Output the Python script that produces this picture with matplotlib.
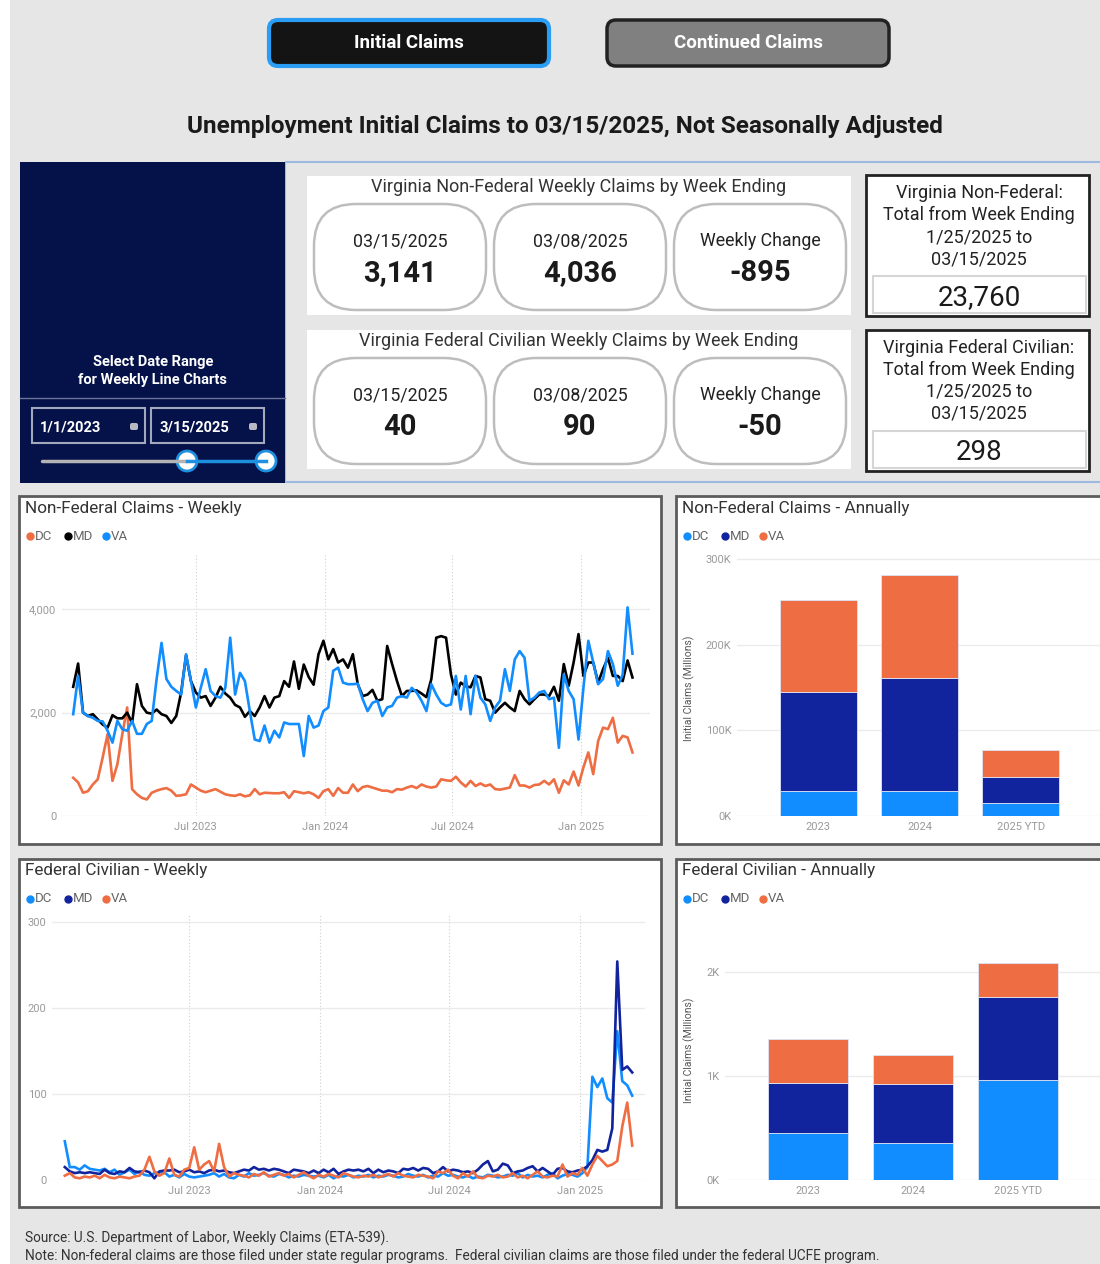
import matplotlib.pyplot as plt
from matplotlib.patches import Rectangle, FancyBboxPatch, Circle
import pandas as pd

plt.rcParams['font.family'] = ['Roboto', 'DejaVu Sans']

W, H = 1100, 1264

# weekly series, week ending 1/7/2023 .. 3/15/2025
weeks = pd.date_range('2023-01-07', '2025-03-15', freq='7D')

nf_dc = [740, 650, 450, 480, 610, 710, 1130, 1580, 680, 1000,
         1580, 2100, 520, 420, 350, 320, 450, 490, 520, 540,
         490, 390, 400, 420, 610, 550, 490, 460, 490, 520,
         470, 420, 400, 390, 420, 380, 400, 520, 420, 450,
         445, 440, 440, 460, 350, 480, 460, 440, 460, 420,
         350, 480, 520, 390, 540, 450, 450, 610, 480, 560,
         580, 550, 520, 490, 490, 460, 520, 510, 550, 580,
         540, 610, 570, 550, 570, 710, 690, 680, 760, 650,
         570, 680, 580, 630, 580, 610, 520, 510, 530, 550,
         790, 590, 590, 550, 600, 610, 680, 610, 710, 450,
         690, 610, 860, 590, 940, 1230, 810, 1450, 1710, 1680,
         1900, 1420, 1550, 1520, 1230]
nf_md = [2500, 2950, 2000, 1935, 1970, 1870, 1770, 1710, 1950, 1890,
         1890, 2000, 1800, 2550, 2130, 2000, 1980, 2060, 1970, 1935,
         1800, 1935, 2390, 3110, 2610, 2390, 2290, 2320, 2130, 2290,
         2500, 2370, 2290, 2150, 2100, 1920, 2030, 1935, 2100, 2320,
         2100, 2290, 2320, 2610, 2500, 2990, 2460, 2930, 2690, 2540,
         3130, 3390, 3030, 3230, 2970, 3030, 2870, 3130, 2550, 2320,
         2350, 2440, 2230, 2260, 3290, 2940, 2610, 2320, 2420, 2420,
         2430, 2370, 2300, 2650, 3450, 3480, 3450, 2740, 2350, 2580,
         2510, 2490, 2710, 2680, 2260, 2230, 2000, 2100, 2190, 2100,
         2030, 2420, 2260, 2160, 2260, 2350, 2350, 2320, 2500, 2230,
         2940, 2520, 2970, 3520, 2710, 2970, 2970, 2580, 2840, 3060,
         2710, 2710, 2610, 3010, 2680]
nf_va = [1970, 2710, 2000, 1935, 1900, 1840, 1830, 1650, 1420, 1840,
         1680, 1650, 1840, 1590, 1590, 1780, 1840, 2650, 3350, 2650,
         2500, 2420, 2350, 3130, 2610, 2100, 2480, 2840, 2420, 2320,
         2290, 2480, 3450, 2350, 2770, 2610, 2030, 1480, 1450, 1750,
         1420, 1650, 1520, 1810, 1780, 1780, 1780, 1160, 1935, 1710,
         1750, 2030, 2100, 2810, 2870, 2580, 2550, 2550, 2560, 2260,
         2030, 2190, 2230, 1935, 2100, 2130, 2290, 2320, 2290, 2480,
         2390, 2230, 2030, 2550, 2350, 2190, 2130, 2160, 2710, 2060,
         2710, 1970, 2710, 2290, 2160, 1840, 2100, 2230, 2840, 2420,
         3030, 3190, 3060, 2230, 2290, 2390, 2420, 2260, 2290, 1320,
         2740, 2420, 2260, 1480, 2480, 3390, 2970, 2550, 2650, 3190,
         2940, 2520, 2733, 4036, 3141]

fed_dc = [45, 15, 15, 12, 17, 13, 12, 11, 13, 9,
          12, 6, 9, 12, 7, 10, 6, 5, 8, 9,
          9, 4, 6, 3, 7, 4, 3, 4, 5, 6,
          8, 4, 7, 3, 2, 6, 4, 8, 5, 6,
          8, 5, 4, 7, 6, 3, 5, 4, 6, 5,
          4, 5, 3, 6, 2, 5, 4, 6, 3, 5,
          4, 6, 3, 5, 4, 6, 5, 3, 4, 7,
          5, 4, 6, 3, 5, 4, 8, 5, 6, 4,
          3, 5, 2, 4, 3, 6, 5, 3, 4, 6,
          5, 8, 3, 6, 4, 5, 3, 6, 8, 2,
          5, 7, 6, 4, 8, 15, 120, 108, 118, 95,
          90, 173, 115, 110, 98]
fed_md = [15, 10, 8, 9, 8, 9, 8, 7, 12, 8,
          7, 10, 9, 14, 10, 9, 11, 9, 2, 10,
          11, 11, 12, 9, 10, 12, 9, 10, 8, 11,
          12, 10, 11, 9, 8, 10, 12, 11, 15, 12,
          13, 11, 13, 12, 10, 8, 12, 11, 10, 8,
          11, 8, 12, 9, 13, 7, 10, 12, 11, 12,
          10, 13, 8, 12, 9, 11, 10, 8, 13, 12,
          14, 11, 14, 13, 8, 10, 15, 10, 12, 11,
          9, 10, 8, 12, 18, 22, 10, 12, 19, 17,
          8, 10, 11, 14, 16, 10, 14, 10, 6, 13,
          14, 10, 9, 11, 12, 16, 23, 35, 33, 35,
          60, 254, 128, 132, 125]
fed_va = [5, 8, 3, 2, 4, 3, 5, 2, 6, 3,
          2, 4, 3, 2, 4, 5, 12, 27, 10, 5,
          8, 25, 6, 4, 12, 14, 38, 12, 18, 22,
          10, 42, 15, 4, 8, 6, 5, 3, 7, 5,
          9, 4, 6, 8, 5, 7, 3, 6, 9, 5,
          2, 6, 4, 7, 5, 3, 8, 6, 4, 3,
          5, 4, 6, 3, 5, 7, 4, 8, 5, 4,
          3, 6, 5, 4, 2, 10, 8, 12, 5, 2,
          8, 4, 10, 3, 2, 5, 4, 6, 3, 4,
          8, 3, 5, 2, 6, 10, 4, 3, 5, 4,
          18, 4, 8, 6, 14, 5, 18, 28, 22, 16,
          18, 22, 62, 90, 40]

# annual totals
years = ['2023', '2024', '2025 YTD']
nf_yr_dc = [29000, 29000, 15000]
nf_yr_md = [116000, 132000, 30500]
nf_yr_va = [107000, 120000, 31500]
fed_yr_dc = [450, 355, 960]
fed_yr_md = [480, 565, 800]
fed_yr_va = [425, 280, 330]

# KPI cards
kpi_labels = ['03/15/2025', '03/08/2025', 'Weekly Change']
nf_kpi = ['3,141', '4,036', '-895']
fed_kpi = ['40', '90', '-50']
nf_total = '23,760'
fed_total = '298'

date_ticks = pd.to_datetime(['2023-07-01', '2024-01-01', '2024-07-01', '2025-01-01'])
date_labels = ['Jul 2023', 'Jan 2024', 'Jul 2024', 'Jan 2025']

ORANGE = '#EE6D42'
LBLUE = '#118DFF'
NAVY = '#12239E'

fig = plt.figure(figsize=(W / 100, H / 100), dpi=100)
fig.patch.set_facecolor('#e6e6e6')

# full-figure axes in pixel units for the dashboard furniture
bg = fig.add_axes([0, 0, 1, 1])
bg.set_xlim(0, W)
bg.set_ylim(H, 0)
bg.axis('off')


def px_axes(x0, y0, x1, y1):
    return fig.add_axes([x0 / W, 1 - y1 / H, (x1 - x0) / W, (y1 - y0) / H])


bg.add_patch(Rectangle((0, 0), 10, H, fc='white', ec='none'))

# buttons
bg.add_patch(FancyBboxPatch((269, 20), 280, 46, boxstyle='round,pad=0,rounding_size=9',
                            fc='#141414', ec='#2a9df4', lw=3))
bg.text(409, 43, 'Initial Claims', color='white', fontsize=13.5, fontweight='bold',
        ha='center', va='center')
bg.add_patch(FancyBboxPatch((607, 20), 282, 46, boxstyle='round,pad=0,rounding_size=9',
                            fc='#808080', ec='#222222', lw=2.5))
bg.text(748, 43, 'Continued Claims', color='white', fontsize=13.5, fontweight='bold',
        ha='center', va='center')

bg.text(565, 127, 'Unemployment Initial Claims to 03/15/2025, Not Seasonally Adjusted',
        fontsize=17.5, fontweight='bold', ha='center', va='center', color='#1a1a1a')

# date slicer panel
bg.add_patch(Rectangle((285, 162), 830, 320, fill=False, ec='#9dbbe0', lw=1.5))
bg.add_patch(Rectangle((20, 162), 265, 321, fc='#051249', ec='none'))
bg.text(153, 371, 'Select Date Range\nfor Weekly Line Charts', ha='center', va='center',
        color='white', fontsize=10.5, fontweight='bold', linespacing=1.4)
bg.plot([20, 285], [398, 398], color='#6b7396', lw=1)
for x0, label in [(32, '1/1/2023'), (151, '3/15/2025')]:
    bg.add_patch(Rectangle((x0, 408), 113, 35, fill=False, ec='#a4a8bc', lw=1.5))
    bg.text(x0 + 8, 427, label, color='white', fontsize=10.5, fontweight='bold', va='center')
    bg.add_patch(FancyBboxPatch((x0 + 98, 423), 8, 7, boxstyle='round,pad=0,rounding_size=2',
                                fc='#b8b8c4', ec='none'))
bg.plot([42, 187], [461, 461], color='#b4b4b4', lw=2.5, solid_capstyle='round')
bg.plot([187, 266], [461, 461], color='#1f8fe0', lw=2.5)
for cx in [187, 266]:
    bg.add_patch(Circle((cx, 461), 10, fc='white', ec='#1f8fe0', lw=2))

# KPI cards
for top, title, vals in [(176, 'Virginia Non-Federal Weekly Claims by Week Ending', nf_kpi),
                         (330, 'Virginia Federal Civilian Weekly Claims by Week Ending', fed_kpi)]:
    bg.add_patch(Rectangle((307, top), 544, 139, fc='white', ec='none'))
    bg.text(579, top + 11, title, ha='center', va='center', fontsize=13, color='#333333')
    for cx, lab, val in zip([400, 580, 760], kpi_labels, vals):
        bg.add_patch(FancyBboxPatch((cx - 86, top + 28), 172, 106,
                                    boxstyle='round,pad=0,rounding_size=42',
                                    fc='white', ec='#bdbdbd', lw=1.8))
        bg.text(cx, top + 65, lab, ha='center', va='center', fontsize=12.8, color='#222222')
        bg.text(cx, top + 97, val, ha='center', va='center', fontsize=21,
                fontweight='bold', color='#1a1a1a')

for top, lines, total in [(175, ['Virginia Non-Federal:', 'Total from Week Ending',
                                 '1/25/2025 to', '03/15/2025'], nf_total),
                          (330, ['Virginia Federal Civilian:', 'Total from Week Ending',
                                 '1/25/2025 to', '03/15/2025'], fed_total)]:
    bg.add_patch(Rectangle((866, top), 223, 141, fc='white', ec='#222222', lw=2))
    bg.add_patch(Rectangle((873, top + 101), 213, 37, fc='white', ec='#d5d5d5', lw=1.5))
    for i, s in enumerate(lines):
        bg.text(979, top + 18 + 22 * i, s, ha='center', va='center', fontsize=13,
                color='#222222')
    bg.text(979, top + 123, total, ha='center', va='center', fontsize=20, color='#1a1a1a')

# chart panels
panels = [((19, 496, 642, 348), 'Non-Federal Claims - Weekly',
           [('DC', ORANGE), ('MD', 'black'), ('VA', LBLUE)]),
          ((676, 496, 440, 348), 'Non-Federal Claims - Annually',
           [('DC', LBLUE), ('MD', NAVY), ('VA', ORANGE)]),
          ((19, 859, 642, 348), 'Federal Civilian - Weekly',
           [('DC', LBLUE), ('MD', NAVY), ('VA', ORANGE)]),
          ((676, 859, 440, 348), 'Federal Civilian - Annually',
           [('DC', LBLUE), ('MD', NAVY), ('VA', ORANGE)])]
for (x0, y0, w, h), title, items in panels:
    bg.add_patch(Rectangle((x0, y0), w, h, fc='white', ec='#5c5c5c', lw=2))
    bg.text(x0 + 6, y0 + 12, title, fontsize=12.3, color='#333333', va='center')
    for k, (lab, col) in enumerate(items):
        lx = x0 + 11 + 38 * k
        bg.plot(lx, y0 + 40, 'o', ms=5, color=col)
        bg.text(lx + 5, y0 + 40, lab, fontsize=9.5, color='#666666', va='center')


def style_axes(ax):
    ax.set_facecolor('none')
    for sp in ax.spines.values():
        sp.set_visible(False)
    ax.tick_params(length=0, labelsize=8, labelcolor='#9a9a9a', pad=4)
    ax.set_axisbelow(True)
    ax.yaxis.grid(True, color='#ebebeb', lw=1)


# non-federal weekly
ax1 = px_axes(62, 555, 650, 816)
style_axes(ax1)
ax1.plot(weeks, nf_dc, color=ORANGE, lw=1.9)
ax1.plot(weeks, nf_md, color='black', lw=1.9)
ax1.plot(weeks, nf_va, color=LBLUE, lw=1.9)
ax1.set_ylim(0, 5050)
ax1.set_yticks([0, 2000, 4000])
ax1.set_yticklabels(['0', '2,000', '4,000'])
ax1.set_xlim(pd.Timestamp('2022-12-22'), pd.Timestamp('2025-04-09'))
ax1.set_xticks(date_ticks)
ax1.set_xticklabels(date_labels)
ax1.xaxis.grid(True, color='#cfcfcf', ls=(0, (1, 2)), lw=0.8)

# federal weekly
ax3 = px_axes(52, 915, 645, 1180)
style_axes(ax3)
ax3.plot(weeks, fed_dc, color=LBLUE, lw=1.9)
ax3.plot(weeks, fed_md, color=NAVY, lw=1.9)
ax3.plot(weeks, fed_va, color=ORANGE, lw=1.9)
ax3.set_ylim(0, 308)
ax3.set_yticks([0, 100, 200, 300])
ax3.set_xlim(pd.Timestamp('2022-12-20'), pd.Timestamp('2025-04-02'))
ax3.set_xticks(date_ticks)
ax3.set_xticklabels(date_labels)
ax3.xaxis.grid(True, color='#cfcfcf', ls=(0, (1, 2)), lw=0.8)


def stacked(ax, dc, md, va):
    x = range(len(years))
    kw = dict(width=0.76, edgecolor='#dde4f5', linewidth=0.6)
    ax.bar(x, dc, color=LBLUE, **kw)
    ax.bar(x, md, bottom=dc, color=NAVY, **kw)
    ax.bar(x, va, bottom=[a + b for a, b in zip(dc, md)], color=ORANGE, **kw)
    ax.set_xticks(list(x))
    ax.set_xticklabels(years)


# non-federal annual
ax2 = px_axes(737, 552, 1100, 816)
style_axes(ax2)
stacked(ax2, nf_yr_dc, nf_yr_md, nf_yr_va)
ax2.set_xlim(-0.8, 2.78)
ax2.set_ylim(0, 308000)
ax2.set_yticks([0, 100000, 200000, 300000])
ax2.set_yticklabels(['0K', '100K', '200K', '300K'])
bg.text(689, 688, 'Initial Claims (Millions)', rotation=90, ha='center', va='center',
        fontsize=7.5, color='#555555')

# federal annual
ax4 = px_axes(725, 918, 1100, 1180)
style_axes(ax4)
stacked(ax4, fed_yr_dc, fed_yr_md, fed_yr_va)
ax4.set_xlim(-0.79, 2.78)
ax4.set_ylim(0, 2520)
ax4.set_yticks([0, 1000, 2000])
ax4.set_yticklabels(['0K', '1K', '2K'])
bg.text(689, 1050, 'Initial Claims (Millions)', rotation=90, ha='center', va='center',
        fontsize=7.5, color='#555555')

# footer
bg.text(25, 1238, 'Source: U.S. Department of Labor, Weekly Claims (ETA-539).',
        fontsize=9.8, color='#333333', va='center')
bg.text(25, 1256, 'Note: Non-federal claims are those filed under state regular programs.  '
        'Federal civilian claims are those filed under the federal UCFE program.',
        fontsize=9.8, color='#333333', va='center')

fig.savefig('out.png', dpi=100, facecolor=fig.get_facecolor())
